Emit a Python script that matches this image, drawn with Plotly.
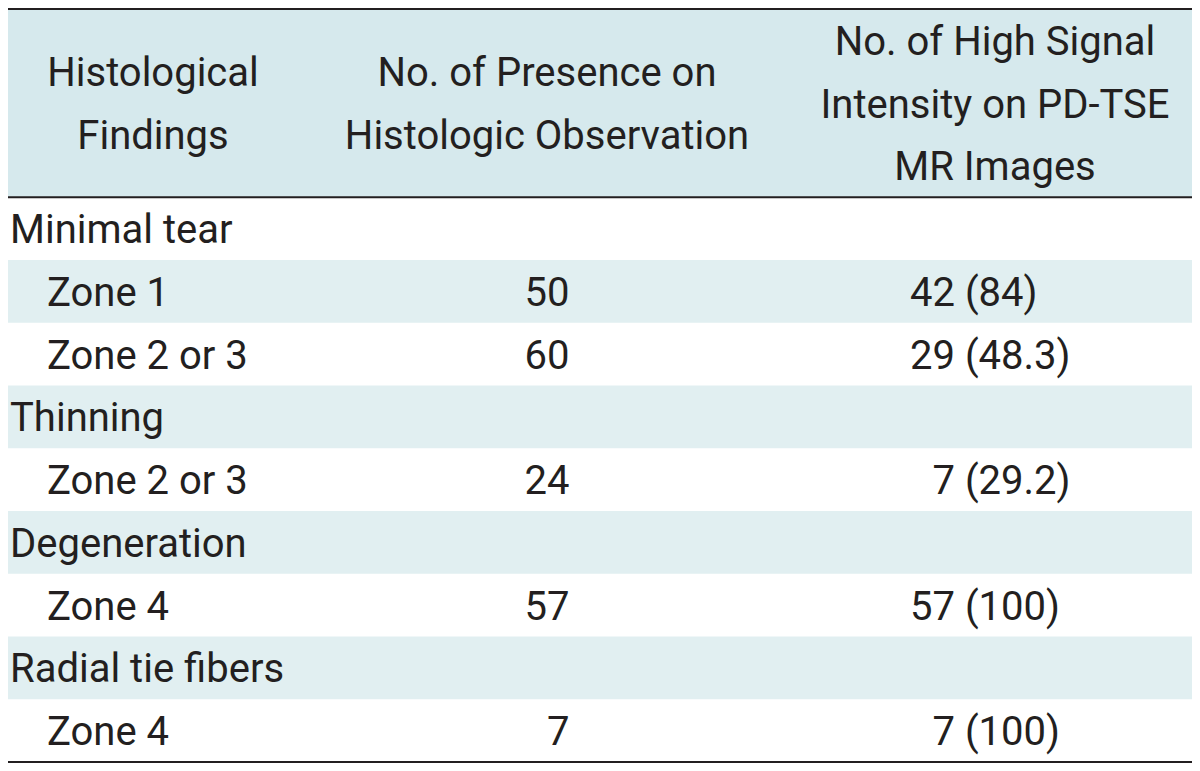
import plotly.graph_objects as go

# ---- data ----
header_col1 = ["Histological", "Findings"]
header_col2 = ["No. of Presence on", "Histologic Observation"]
header_col3 = ["No. of High Signal", "Intensity on PD-TSE", "MR Images"]

findings = ["Minimal tear", "Zone 1", "Zone 2 or 3", "Thinning", "Zone 2 or 3",
            "Degeneration", "Zone 4", "Radial tie fibers", "Zone 4"]
is_group = [True, False, False, True, False, True, False, True, False]
presence = [None, 50, 60, None, 24, None, 57, None, 7]
high_n = [None, 42, 29, None, 7, None, 57, None, 7]
high_pct = [None, "84", "48.3", None, "29.2", None, "100", None, "100"]

# ---- style / layout constants ----
FONT = "Roboto"
FS = 40
TXT = "#231f20"
HEAD_BG = "#d6e9ed"
STRIPE_BG = "#e1eff1"
HEADER_ROWS = 3
X_LEFT, X_RIGHT = 7, 1193
X_GROUP, X_SUB = 10, 47
X_C1, X_C2, X_C3H, X_C3 = 153, 547, 995, 910
FSP = "\u2007"  # figure space for digit alignment
OFF = 8  # page body margin

n_rows = len(findings)
total = HEADER_ROWS + n_rows
row_px = (762 - 9) / total
pad_top = (9 - OFF) / row_px
pad_bot = (771 - 762) / row_px
TY = 4.5 / row_px  # vertical optical correction for cap-centred text

fig = go.Figure()

shapes = []
shapes.append(dict(type="rect", xref="x", yref="y", x0=X_LEFT, x1=X_RIGHT,
                   y0=0, y1=HEADER_ROWS, fillcolor=HEAD_BG, line_width=0, layer="below"))
for i in range(n_rows):
    if i % 2 == 1:
        shapes.append(dict(type="rect", xref="x", yref="y", x0=X_LEFT, x1=X_RIGHT,
                           y0=HEADER_ROWS + i, y1=HEADER_ROWS + i + 1,
                           fillcolor=STRIPE_BG, line_width=0, layer="below"))
for yy in [0, HEADER_ROWS, total]:
    shapes.append(dict(type="line", xref="x", yref="y", x0=X_LEFT, x1=X_RIGHT,
                       y0=yy, y1=yy, line=dict(color=TXT, width=2.2)))

font = dict(family=FONT, size=FS, color=TXT)


def header_trace(lines, x, centers):
    fig.add_trace(go.Scatter(x=[x] * len(lines), y=[c + TY for c in centers], text=lines,
                             mode="text", textposition="middle center", textfont=font,
                             hoverinfo="skip", showlegend=False, cliponaxis=False))


header_trace(header_col1, X_C1, [1.0, 2.0])
header_trace(header_col2, X_C2, [1.0, 2.0])
header_trace(header_col3, X_C3H, [0.5, 1.5, 2.5])

row_y = [HEADER_ROWS + i + 0.5 + TY for i in range(n_rows)]

fig.add_trace(go.Scatter(
    x=[X_GROUP if g else X_SUB for g in is_group], y=row_y, text=findings,
    mode="text", textposition="middle right", textfont=font,
    hoverinfo="skip", showlegend=False, cliponaxis=False))

p_idx = [i for i, v in enumerate(presence) if v is not None]
p_txt = [f"{presence[i]:>2}".replace(" ", FSP) for i in p_idx]
fig.add_trace(go.Scatter(
    x=[X_C2] * len(p_idx), y=[row_y[i] for i in p_idx], text=p_txt,
    mode="text", textposition="middle center", textfont=font,
    hoverinfo="skip", showlegend=False, cliponaxis=False))

h_idx = [i for i, v in enumerate(high_n) if v is not None]
h_txt = [(f"{high_n[i]:>2}".replace(" ", FSP) + f" ({high_pct[i]})") for i in h_idx]
fig.add_trace(go.Scatter(
    x=[X_C3] * len(h_idx), y=[row_y[i] for i in h_idx], text=h_txt,
    mode="text", textposition="middle right", textfont=font,
    hoverinfo="skip", showlegend=False, cliponaxis=False))

fig.update_layout(
    width=1200 - OFF, height=771 - OFF, margin=dict(l=0, r=0, t=0, b=0),
    paper_bgcolor="white", plot_bgcolor="white", shapes=shapes,
    xaxis=dict(range=[OFF, 1200], visible=False, fixedrange=True),
    yaxis=dict(range=[total + pad_bot, -pad_top], visible=False, fixedrange=True),
)

fig.write_html("out.html")
